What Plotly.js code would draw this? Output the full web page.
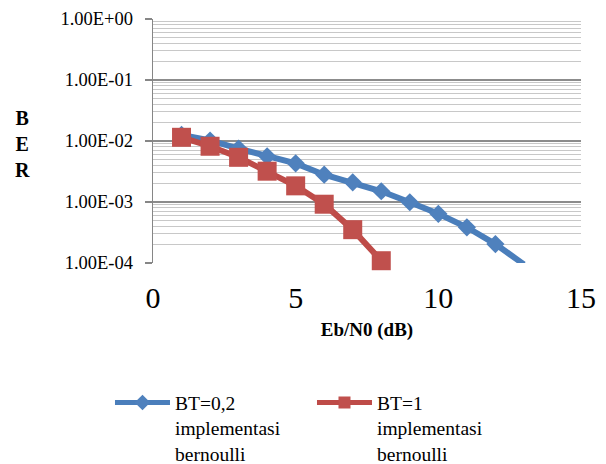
<!DOCTYPE html>
<html>
<head>
<meta charset="utf-8">
<script src="https://cdn.plot.ly/plotly-3.0.1.min.js"></script>
<style>html,body{margin:0;padding:0;background:#fff;}#chart{width:606px;height:464px;}</style>
</head>
<body>
<div id="chart"></div>
<script>
const ebn0 = [1, 2, 3, 4, 5, 6, 7, 8, 9, 10, 11, 12, 13];
const berBT02 = [0.0126, 0.0102, 0.0075, 0.0056, 0.0043, 0.0028, 0.0021, 0.0015, 0.00099, 0.00064, 0.000385, 0.000204, 0.000095];
const ebn0BT1 = [1, 2, 3, 4, 5, 6, 7, 8];
const berBT1 = [0.0115, 0.0082, 0.0054, 0.0032, 0.00184, 0.00092, 0.000352, 0.000109];
const seriesNames = ["BT=0,2<br>implementasi<br>bernoulli", "BT=1<br>implementasi<br>bernoulli"];
const yTickVals = [1e-4, 1e-3, 1e-2, 1e-1, 1];
const yTickText = ["1.00E-04", "1.00E-03", "1.00E-02", "1.00E-01", "1.00E+00"];
const xTickVals = [0, 5, 10, 15];

const yMin = 1e-4;
const FONT = "Liberation Serif";
const sizeFor = (arr, s) => arr.map(v => (v < yMin ? 0 : s));

const traces = [
  {
    x: ebn0, y: berBT02, name: seriesNames[0], type: "scatter", mode: "lines+markers",
    line: {color: "#4A7EBB", width: 6},
    marker: {symbol: "diamond", size: sizeFor(berBT02, 14), color: "#4F81BD", opacity: 1, line: {width: 0}},
    cliponaxis: false
  },
  {
    x: ebn0BT1, y: berBT1, name: seriesNames[1], type: "scatter", mode: "lines+markers",
    line: {color: "#BE4B48", width: 6},
    marker: {symbol: "square", size: sizeFor(berBT1, 19), color: "#C0504D", opacity: 1, line: {width: 0}},
    cliponaxis: false
  }
];

const layout = {
  width: 606, height: 464,
  margin: {l: 153, r: 25.3, t: 19, b: 201.3, pad: 0},
  paper_bgcolor: "#fff", plot_bgcolor: "#fff",
  font: {family: FONT, color: "#000"},
  showlegend: true,
  legend: {
    orientation: "h", xref: "container", yref: "container",
    x: 0.1815, y: 0.174, xanchor: "left", yanchor: "top",
    font: {family: FONT, size: 19.5, color: "#000"},
    valign: "top", itemwidth: 55, itemsizing: "constant",
    entrywidth: 132, entrywidthmode: "pixels",
    tracegroupgap: 0
  },
  xaxis: {
    range: [0, 15], tickvals: xTickVals, ticktext: xTickVals.map(String),
    showgrid: false, zeroline: false, showline: false, ticks: "",
    tickfont: {family: FONT, size: 30, color: "#000"},
    ticklabelstandoff: 14,
    title: {text: "<b>Eb/N0 (dB)</b>", font: {family: FONT, size: 19, color: "#000"}, standoff: 9}
  },
  xaxis2: {
    overlaying: "x", side: "top", anchor: "y", range: [0, 15], tickvals: xTickVals,
    showticklabels: false, showgrid: false, zeroline: false,
    showline: true, linecolor: "#868686", linewidth: 1.3,
    ticks: "inside", ticklen: 8, tickcolor: "#868686", tickwidth: 1.3
  },
  yaxis: {
    type: "log", range: [-4, 0], tickvals: yTickVals, ticktext: yTickText,
    showline: true, linecolor: "#868686", linewidth: 1.3,
    ticks: "outside", ticklen: 7, tickcolor: "#868686", tickwidth: 1.3,
    showgrid: true, gridcolor: "#8C8C8C", gridwidth: 1.3, zeroline: false,
    tickfont: {family: FONT, size: 18.5, color: "#000"},
    ticklabelstandoff: 8,
    minor: {dtick: "D1", showgrid: true, gridcolor: "#C8C8C8", gridwidth: 1, ticks: ""}
  },
  annotations: [{
    text: "<b>B<br>E<br>R</b>", xref: "paper", yref: "paper",
    x: -0.304, y: 0.487, xanchor: "center", yanchor: "middle", showarrow: false,
    font: {family: FONT, size: 20, color: "#000"}
  }]
};

Plotly.newPlot("chart", traces, layout, {displayModeBar: false, staticPlot: true});
</script>
</body>
</html>
